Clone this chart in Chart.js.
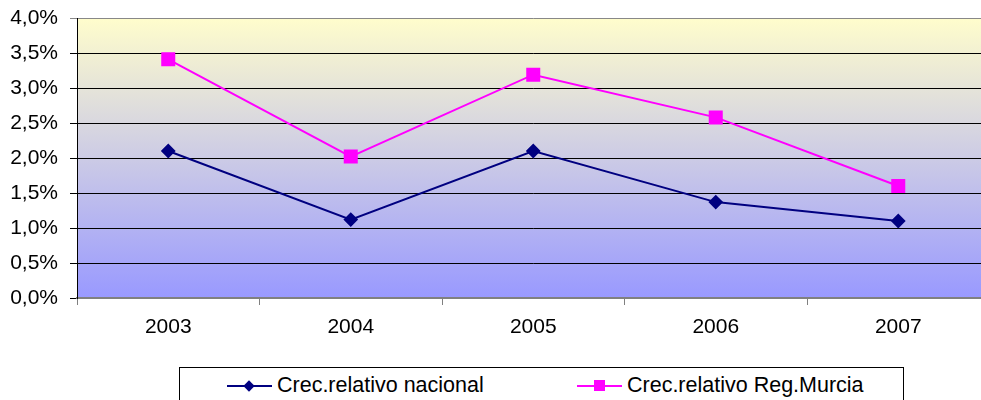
<!DOCTYPE html>
<html>
<head>
<meta charset="utf-8">
<script src="https://cdn.jsdelivr.net/npm/chart.js@4/dist/chart.umd.min.js"></script>
<style>
    html, body { margin: 0; padding: 0; background: #fff; overflow: hidden; }
    #wrap { position: relative; width: 1000px; height: 400px; }
    #legend {
        position: absolute; left: 179px; top: 367px; width: 725px; height: 40px;
        border: 1px solid #000; background: #fff; box-sizing: border-box;
        font-family: "Liberation Sans", Arial, sans-serif;
        font-size: 21.5px; color: #000;
    }
    .item { position: absolute; top: 5px; display: flex; align-items: center; white-space: nowrap; }
    .sym { position: relative; width: 45px; height: 20px; margin-right: 5px; }
    .sym .ln { position: absolute; left: 0; right: 0; top: 9px; height: 2px; }
    .sym .mk { position: absolute; }
</style>
</head>
<body>
<div id="wrap">
    <canvas id="chart" width="1000" height="400"></canvas>
    <div id="legend"></div>
</div>
<script>
// categories and series
const years = ['2003', '2004', '2005', '2006', '2007'];
const nacional = [2.10, 1.12, 2.10, 1.37, 1.10];
const murcia = [3.41, 2.02, 3.19, 2.58, 1.60];
const seriesNames = ['Crec.relativo nacional', 'Crec.relativo Reg.Murcia'];

// gradient background behind the plot area
const plotBackground = {
    id: 'plotBackground',
    beforeDraw(chart) {
        const { ctx, chartArea: a } = chart;
        const g = ctx.createLinearGradient(0, a.top, 0, a.bottom);
        g.addColorStop(0, '#FFFDCC');
        g.addColorStop(1, '#9999FF');
        ctx.save();
        ctx.fillStyle = g;
        ctx.fillRect(a.left, a.top, a.right - a.left, a.bottom - a.top);
        ctx.restore();
    }
};

const chart = new Chart(document.getElementById('chart'), {
    type: 'line',
    data: {
        labels: years,
        datasets: [{
            label: seriesNames[0],
            data: nacional,
            borderColor: '#000080',
            backgroundColor: '#000080',
            borderWidth: 2,
            pointStyle: 'rectRot',
            pointRadius: 6,
            pointHoverRadius: 6,
            tension: 0
        }, {
            label: seriesNames[1],
            data: murcia,
            borderColor: '#FF00FF',
            backgroundColor: '#FF00FF',
            borderWidth: 2,
            pointStyle: 'rect',
            pointRadius: 8.5,
            pointHoverRadius: 8.5,
            tension: 0
        }]
    },
    options: {
        responsive: false,
        animation: false,
        layout: { padding: { top: 18, right: 8, bottom: 0, left: 0 } },
        plugins: {
            legend: { display: false },
            tooltip: { enabled: false }
        },
        scales: {
            x: {
                offset: true,
                grid: {
                    offset: true,
                    drawOnChartArea: false,
                    drawTicks: true,
                    tickLength: 7,
                    color: '#808080'
                },
                border: { color: '#808080', width: 2 },
                ticks: {
                    color: '#000',
                    padding: 10,
                    font: { family: '"Liberation Sans", Arial, sans-serif', size: 21 }
                },
                afterFit(scale) {
                    scale.height = 102;
                    scale.paddingLeft = 0;
                    scale.paddingRight = 0;
                }
            },
            y: {
                min: 0,
                max: 4,
                grid: {
                    color: (c) => c.tick && c.tick.value === 4 ? '#888888' : '#000000',
                    lineWidth: 1,
                    tickLength: 7,
                    drawTicks: true
                },
                border: { color: '#000', width: 1 },
                ticks: {
                    stepSize: 0.5,
                    color: '#000',
                    padding: 12,
                    font: { family: '"Liberation Sans", Arial, sans-serif', size: 21 },
                    callback: (v) => v.toFixed(1).replace('.', ',') + '%'
                },
                afterFit(scale) {
                    scale.width = 77;
                    scale.paddingTop = 0;
                    scale.paddingBottom = 0;
                }
            }
        }
    },
    plugins: [plotBackground]
});

// legend with a box, drawn as html
const legend = document.getElementById('legend');
const legendLeft = [47, 397];
chart.data.datasets.forEach((ds, i) => {
    const item = document.createElement('div');
    item.className = 'item';
    item.style.left = legendLeft[i] + 'px';
    const sym = document.createElement('span');
    sym.className = 'sym';
    const ln = document.createElement('span');
    ln.className = 'ln';
    ln.style.background = ds.borderColor;
    const mk = document.createElement('span');
    mk.className = 'mk';
    mk.style.background = ds.backgroundColor;
    if (ds.pointStyle === 'rectRot') {
        mk.style.width = '8px'; mk.style.height = '8px';
        mk.style.left = '18px'; mk.style.top = '6px';
        mk.style.transform = 'rotate(45deg)';
    } else {
        mk.style.width = '11px'; mk.style.height = '11px';
        mk.style.left = '17px'; mk.style.top = '4px';
    }
    sym.appendChild(ln);
    sym.appendChild(mk);
    item.appendChild(sym);
    const txt = document.createElement('span');
    txt.textContent = ds.label;
    item.appendChild(txt);
    legend.appendChild(item);
});
</script>
</body>
</html>
